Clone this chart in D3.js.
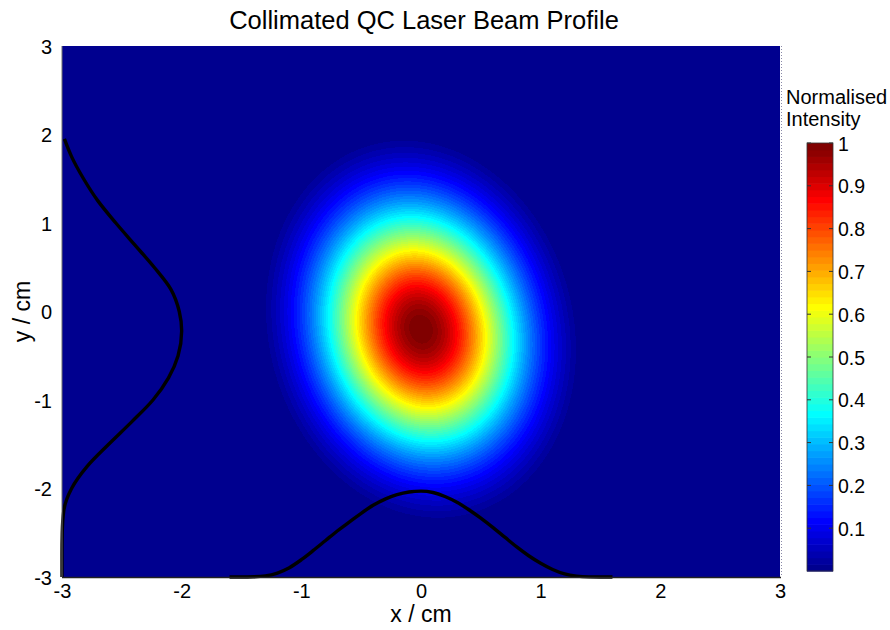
<!DOCTYPE html>
<html>
<head>
<meta charset="utf-8">
<script src="https://cdn.jsdelivr.net/npm/d3@7"></script>
<style>
  body { margin: 0; background: #ffffff; }
  svg text { font-family: "Liberation Sans", Arial, sans-serif; fill: #000; }
</style>
</head>
<body>
<svg id="chart" width="890" height="630"></svg>
<script>
// ---- chart data ----
const xTicks = [-3, -2, -1, 0, 1, 2, 3];
const yTicks = [-3, -2, -1, 0, 1, 2, 3];
const colourTicks = [0.1, 0.2, 0.3, 0.4, 0.5, 0.6, 0.7, 0.8, 0.9, 1];

// fitted beam: centre (cm), widths (cm), tilt of the major axis (deg),
// and the background level removed before normalising
const beamCentre = [0.0, -0.2];
const beamSigma = [0.57, 0.95];
const beamTilt = 6;
const beamBackground = 0.065;

// horizontal intensity cut (drawn along the bottom edge)
const xProfileX = [-1.6, -1.5, -1.4, -1.3, -1.2, -1.1, -1.0, -0.9, -0.8, -0.7, -0.6, -0.5, -0.4, -0.3, -0.2, -0.1,
                   0.0, 0.1, 0.2, 0.3, 0.4, 0.5, 0.6, 0.7, 0.8, 0.9, 1.0, 1.1, 1.2, 1.3, 1.4, 1.5, 1.6];
const xProfileValue = [0, 0, 0.002, 0.012, 0.045, 0.105, 0.195, 0.30, 0.41, 0.52, 0.62, 0.72, 0.81, 0.88, 0.93, 0.96,
                       0.97, 0.955, 0.91, 0.845, 0.76, 0.665, 0.56, 0.45, 0.34, 0.24, 0.155, 0.085, 0.035, 0.01, 0.001, 0, 0];

// vertical intensity cut (drawn along the left edge)
const yProfileY = [-3.0, -2.75, -2.5, -2.25, -2.0, -1.75, -1.5, -1.25, -1.0, -0.75, -0.5, -0.22,
                   0.0, 0.25, 0.5, 0.75, 1.0, 1.25, 1.5, 1.75, 1.95];
const yProfileValue = [0, 0, 0.002, 0.015, 0.08, 0.21, 0.39, 0.58, 0.76, 0.89, 0.97, 1.0,
                       0.98, 0.91, 0.77, 0.61, 0.45, 0.30, 0.18, 0.08, 0.02];

// ---- layout ----
const plot = { left: 62, right: 780, top: 46, bottom: 577 };
const bar = { left: 807, right: 833, top: 143, bottom: 571 };
const fontFamily = "Liberation Sans, Arial, sans-serif";

const svg = d3.select("#chart");
const x = d3.scaleLinear().domain([-3, 3]).range([plot.left, plot.right]);
const y = d3.scaleLinear().domain([-3, 3]).range([plot.bottom, plot.top]);
const c = d3.scaleLinear().domain([0, 1]).range([bar.bottom, bar.top]);

// MATLAB-style jet colormap with 64 entries
function jetMap(m) {
  const n = Math.ceil(m / 4);
  const u = [];
  for (let i = 1; i <= n; i++) u.push(i / n);
  for (let i = 1; i < n; i++) u.push(1);
  for (let i = n; i >= 1; i--) u.push(i / n);
  const off = Math.ceil(n / 2) - (m % 4 === 1 ? 1 : 0);
  const r = new Array(m).fill(0), g = new Array(m).fill(0), b = new Array(m).fill(0);
  u.forEach((val, j) => {
    const gi = off + j;
    const ri = gi + n, bi = gi - n;
    if (gi >= 0 && gi < m) g[gi] = val;
    if (ri >= 0 && ri < m) r[ri] = val;
    if (bi >= 0 && bi < m) b[bi] = val;
  });
  return d3.range(m).map(i => [Math.round(r[i] * 255), Math.round(g[i] * 255), Math.round(b[i] * 255)]);
}
const jet = jetMap(64);
const colourIndex = v => Math.max(0, Math.min(63, Math.floor(v * 64)));

// ---- intensity image ----
const w = plot.right - plot.left, h = plot.bottom - plot.top;
const canvas = document.createElement("canvas");
canvas.width = w; canvas.height = h;
const ctx = canvas.getContext("2d");
const img = ctx.createImageData(w, h);
const th = beamTilt * Math.PI / 180, ct = Math.cos(th), st = Math.sin(th);
for (let py = 0; py < h; py++) {
  const yv = y.invert(plot.top + py + 0.5);
  for (let px = 0; px < w; px++) {
    const xv = x.invert(plot.left + px + 0.5);
    const dx = xv - beamCentre[0], dy = yv - beamCentre[1];
    const a = dx * ct + dy * st, bb = -dx * st + dy * ct;
    const raw = Math.exp(-(a * a) / (2 * beamSigma[0] ** 2) - (bb * bb) / (2 * beamSigma[1] ** 2));
    const v = Math.max(0, (raw - beamBackground) / (1 - beamBackground));
    const col = jet[colourIndex(v)];
    const k = (py * w + px) * 4;
    img.data[k] = col[0]; img.data[k + 1] = col[1]; img.data[k + 2] = col[2]; img.data[k + 3] = 255;
  }
}
ctx.putImageData(img, 0, 0);
svg.append("image")
  .attr("x", plot.left).attr("y", plot.top)
  .attr("width", w).attr("height", h)
  .attr("preserveAspectRatio", "none")
  .attr("href", canvas.toDataURL());

// ---- profile curves ----
const profileLayer = svg.append("g");
profileLayer.append("path")
  .datum(xProfileX.map((xv, i) => [xv, xProfileValue[i]]))
  .attr("fill", "none").attr("stroke", "#000").attr("stroke-width", 3.4)
  .attr("d", d3.line().x(d => x(d[0])).y(d => y(-3 + d[1])).curve(d3.curveMonotoneX));
profileLayer.append("path")
  .datum(yProfileY.map((yv, i) => [yv, yProfileValue[i]]))
  .attr("fill", "none").attr("stroke", "#000").attr("stroke-width", 3.4)
  .attr("d", d3.line().x(d => x(-3 + d[1])).y(d => y(d[0])).curve(d3.curveMonotoneY));

// ---- axes frame ----
svg.append("line").attr("x1", plot.left).attr("x2", plot.left)
  .attr("y1", plot.top).attr("y2", plot.bottom).attr("stroke", "#6e6e6e").attr("stroke-width", 1);
svg.append("line").attr("x1", plot.left).attr("x2", plot.right + 1)
  .attr("y1", plot.bottom + 0.5).attr("y2", plot.bottom + 0.5).attr("stroke", "#222").attr("stroke-width", 1.5);
svg.append("line").attr("x1", plot.right + 1.5).attr("x2", plot.right + 1.5)
  .attr("y1", plot.top).attr("y2", plot.bottom)
  .attr("stroke", "#8a8aa8").attr("stroke-width", 1).attr("stroke-dasharray", "1,2");

// tick labels (plain hyphen-minus, as printed)
const plainNumber = d => String(d);
const xAxis = d3.axisBottom(x).tickValues(xTicks).tickSize(0).tickPadding(4).tickFormat(plainNumber);
const xg = svg.append("g").attr("transform", `translate(0,${plot.bottom})`).call(xAxis);
xg.select(".domain").remove();
xg.selectAll("text").attr("font-size", 20).attr("font-family", fontFamily)
  .attr("dy", "0.75em").attr("y", 6);

const yAxis = d3.axisLeft(y).tickValues(yTicks).tickSize(0).tickPadding(10).tickFormat(plainNumber);
const yg = svg.append("g").attr("transform", `translate(${plot.left},0)`).call(yAxis);
yg.select(".domain").remove();
yg.selectAll("text").attr("font-size", 20).attr("font-family", fontFamily)
  .attr("dy", "0.36em");

// titles
svg.append("text").attr("x", 424).attr("y", 29).attr("text-anchor", "middle")
  .attr("font-size", 25.5).text("Collimated QC Laser Beam Profile");
svg.append("text").attr("x", (plot.left + plot.right) / 2).attr("y", 622).attr("text-anchor", "middle")
  .attr("font-size", 23).text("x / cm");
svg.append("text").attr("transform", `translate(30,${(plot.top + plot.bottom) / 2}) rotate(-90)`)
  .attr("text-anchor", "middle").attr("font-size", 23).text("y / cm");

// ---- colour bar ----
const bands = d3.range(64);
svg.append("g").selectAll("rect").data(bands).join("rect")
  .attr("x", bar.left)
  .attr("width", bar.right - bar.left)
  .attr("y", i => c((i + 1) / 64))
  .attr("height", i => c(i / 64) - c((i + 1) / 64) + 0.6)
  .attr("fill", i => `rgb(${jet[i].join(",")})`);
svg.append("rect").attr("x", bar.left).attr("y", bar.top)
  .attr("width", bar.right - bar.left).attr("height", bar.bottom - bar.top)
  .attr("fill", "none").attr("stroke", "#333").attr("stroke-width", 0.8);

const cAxis = d3.axisRight(c).tickValues(colourTicks).tickSize(0).tickPadding(5)
  .tickFormat(d => d === 1 ? "1" : d3.format(".1f")(d));
const cg = svg.append("g").attr("transform", `translate(${bar.right},0)`).call(cAxis);
cg.select(".domain").remove();
cg.selectAll("text").attr("font-size", 19.5).attr("font-family", fontFamily)
  .attr("dy", "0.36em");
// small inward tick marks on both edges of the bar
svg.append("g").selectAll("line").data(colourTicks).join("line")
  .attr("x1", bar.right - 4).attr("x2", bar.right)
  .attr("y1", d => c(d)).attr("y2", d => c(d)).attr("stroke", "#333").attr("stroke-width", 1);
svg.append("g").selectAll("line").data(colourTicks).join("line")
  .attr("x1", bar.left).attr("x2", bar.left + 4)
  .attr("y1", d => c(d)).attr("y2", d => c(d)).attr("stroke", "#333").attr("stroke-width", 1);

const cTitle = svg.append("text").attr("x", 786).attr("y", 104).attr("font-size", 20);
cTitle.append("tspan").attr("x", 786).text("Normalised");
cTitle.append("tspan").attr("x", 786).attr("dy", 22).text("Intensity");
</script>
</body>
</html>
